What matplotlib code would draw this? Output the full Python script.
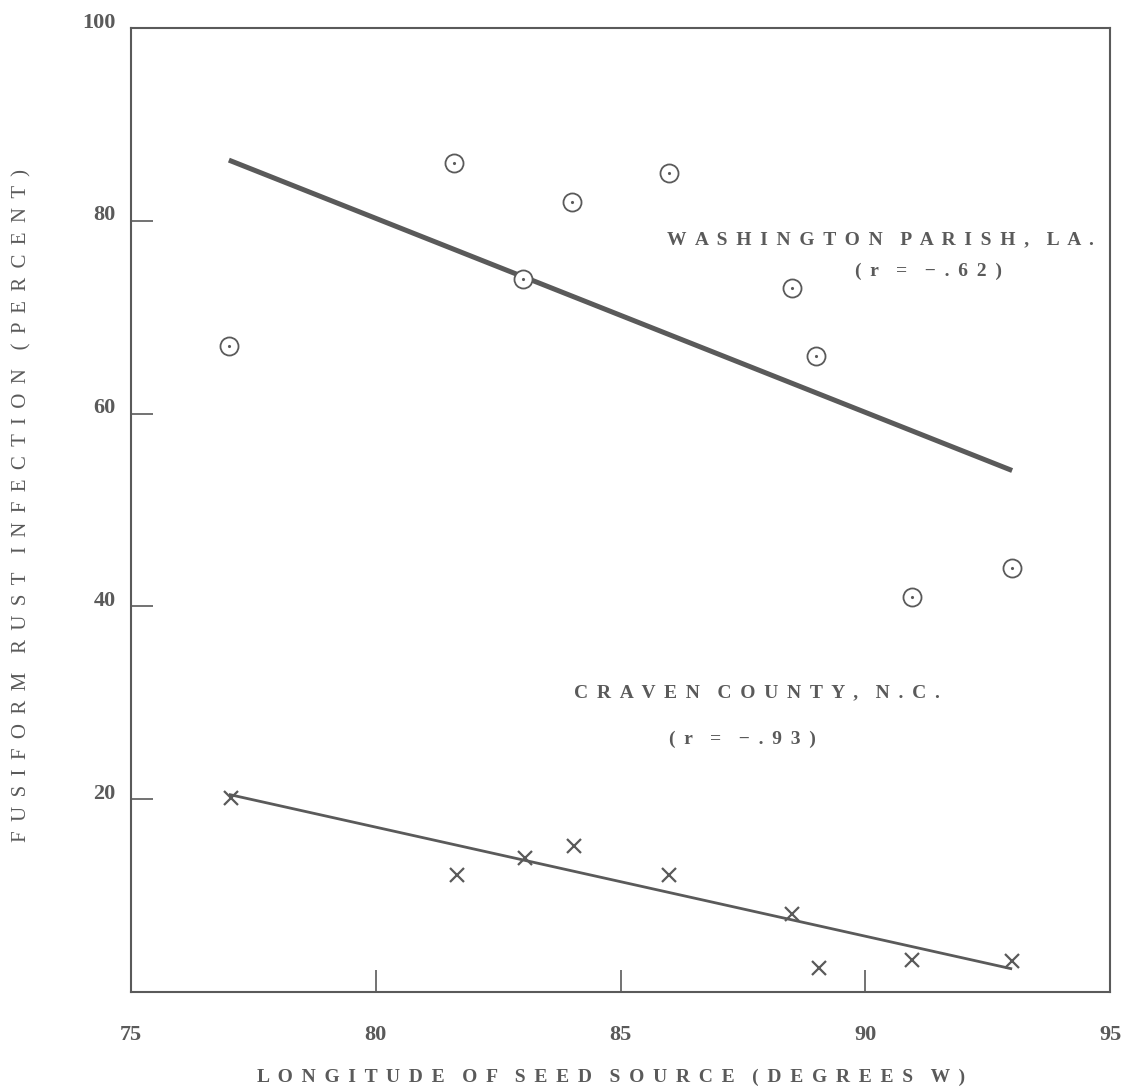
import matplotlib
matplotlib.use('Agg')
import matplotlib.pyplot as plt
from matplotlib.transforms import ScaledTranslation

# dados
longitude_wash = [77.0, 81.6, 83.0, 84.0, 86.0, 88.5, 89.0, 90.95, 93.0]
infeccao_wash = [67, 86, 74, 82, 85, 73, 66, 41, 44]
reta_wash_x = [77.0, 93.0]
reta_wash_y = [86.3, 54.1]

longitude_craven = [77.05, 81.65, 83.05, 84.05, 86.0, 88.5, 89.05, 90.95, 93.0]
infeccao_craven = [20.1, 12.1, 13.9, 15.1, 12.1, 8.1, 2.5, 3.3, 3.2]
reta_craven_x = [77.0, 93.0]
reta_craven_y = [20.5, 2.4]

x_ticks = [75, 80, 85, 90, 95]
y_ticks = [20, 40, 60, 80, 100]

COR = '#5a5a5a'
FONTE = ['Liberation Serif', 'DejaVu Serif']


def espacar(texto, sep=' \u2009'):
    # espaco largo entre letras, como no original datilografado
    return (sep * 2).join(sep.join(p) for p in texto.split(' '))


fig = plt.figure(figsize=(11.32, 10.91), dpi=100)
ax = fig.add_axes([0.1157, 0.0907, 0.8649, 0.8836])

ax.plot(reta_wash_x, reta_wash_y, color=COR, lw=3.6, solid_capstyle='butt')
ax.plot(reta_craven_x, reta_craven_y, color=COR, lw=2.0, solid_capstyle='butt')

ax.plot(longitude_wash, infeccao_wash, 'o', ms=13, mfc='white', mec=COR, mew=1.3)
ax.plot(longitude_wash, infeccao_wash, '.', ms=2.5, color=COR)
ax.plot(longitude_craven, infeccao_craven, 'x', ms=10, mec=COR, mew=1.6)

ax.set_xlim(75, 95)
ax.set_ylim(0, 100)
ax.set_xticks(x_ticks)
ax.set_yticks(y_ticks)
ax.set_xticklabels([str(v) for v in x_ticks])
ax.set_yticklabels([str(v) for v in y_ticks])
ax.tick_params(direction='in', length=16, width=1.2, color=COR, labelcolor=COR,
               labelsize=16)
ax.tick_params(axis='y', pad=11)
ax.tick_params(axis='x', pad=24)
for lab in ax.get_xticklabels() + ax.get_yticklabels():
    lab.set_fontfamily(FONTE)
    lab.set_fontweight('bold')
# rotulos do eixo y ficam um pouco acima do traco
for lab in ax.get_yticklabels():
    lab.set_transform(lab.get_transform() + ScaledTranslation(0, 0.08, fig.dpi_scale_trans))
for s in ax.spines.values():
    s.set_color(COR)
    s.set_linewidth(1.5)

fig.text(611 / 1132, 1 - 1077 / 1091, espacar('LONGITUDE OF SEED SOURCE (DEGREES W)'),
         fontsize=14, fontfamily=FONTE, fontweight='bold', color=COR,
         ha='center', va='center')
fig.text(22 / 1132, 1 - 505 / 1091, espacar('FUSIFORM RUST INFECTION (PERCENT)'),
         fontsize=15, fontfamily=FONTE, color=COR, rotation=90,
         ha='center', va='center')

ax.text(90.3, 78.0, espacar('WASHINGTON PARISH, LA.'), fontsize=14, fontfamily=FONTE,
        fontweight='bold', color=COR, ha='center', va='center')
ax.text(91.3, 74.8, espacar('(r = \u2212.62)'), fontsize=14, fontfamily=FONTE,
        fontweight='bold', color=COR, ha='center', va='center')
ax.text(87.78, 31.1, espacar('CRAVEN COUNTY, N.C.'), fontsize=14, fontfamily=FONTE,
        fontweight='bold', color=COR, ha='center', va='center')
ax.text(87.5, 26.2, espacar('(r = \u2212.93)'), fontsize=14, fontfamily=FONTE,
        fontweight='bold', color=COR, ha='center', va='center')

fig.savefig('out.png', dpi=100, facecolor='white')
